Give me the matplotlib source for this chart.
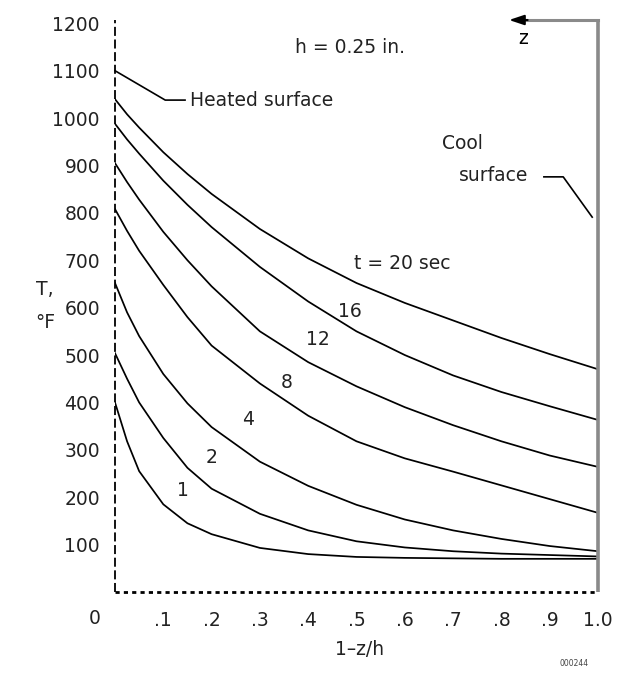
import matplotlib
matplotlib.use("Agg")
import matplotlib.pyplot as plt
import matplotlib.transforms as mtrans

# depth positions (1 - z/h) and temperature profiles, deg F
xs = [0.0, 0.025, 0.05, 0.1, 0.15, 0.2, 0.3, 0.4, 0.5, 0.6, 0.7, 0.8, 0.9, 1.0]
T20 = [1040, 1008, 980, 928, 882, 840, 766, 704, 652, 610, 573, 536, 502, 470]
T16 = [988, 955, 925, 868, 817, 770, 686, 613, 550, 500, 457, 422, 392, 363]
T12 = [905, 865, 828, 760, 700, 645, 550, 485, 434, 390, 352, 318, 288, 264]
T8 = [808, 762, 720, 648, 580, 520, 440, 372, 318, 282, 254, 225, 196, 167]
T4 = [652, 590, 540, 460, 398, 348, 275, 224, 184, 153, 130, 112, 97, 86]
T2 = [504, 450, 400, 325, 262, 218, 165, 130, 107, 94, 86, 81, 78, 75]
T1 = [400, 318, 255, 185, 145, 122, 93, 80, 74, 72, 71, 70, 70, 70]
curves = [T20, T16, T12, T8, T4, T2, T1]

# curve labels and where they sit
lab_txt = ["t = 20 sec", "16", "12", "8", "4", "2", "1"]
lab_x = [0.594, 0.487, 0.42, 0.356, 0.275, 0.2, 0.141]
lab_y = [694, 591, 532, 443, 363, 283, 215]

yticks = [100, 200, 300, 400, 500, 600, 700, 800, 900, 1000, 1100, 1200]
xticks = [0.1, 0.2, 0.3, 0.4, 0.5, 0.6, 0.7, 0.8, 0.9, 1.0]
xlabels = [".1", ".2", ".3", ".4", ".5", ".6", ".7", ".8", ".9", "1.0"]

TOP = 1207
fs = 13.5
tc = "#222222"

fig = plt.figure(figsize=(6.18, 6.75), dpi=100)
ax = fig.add_axes([115/618, 1-592/675, 483/618, 572/675])
ax.set_xlim(0, 1)
ax.set_ylim(0, TOP)
for s in ax.spines.values():
    s.set_visible(False)

for c in curves:
    ax.plot(xs, c, color="black", lw=1.25, solid_joinstyle="round")

for t, x, y in zip(lab_txt, lab_x, lab_y):
    ax.text(x, y, t, fontsize=fs, ha="center", va="center", color=tc)

# frame: dashed left, dotted bottom, grey right (cool surface)
ax.plot([0, 0], [0, TOP], color="black", lw=1.3, ls=(0, (5, 2)), clip_on=False)
ax.plot([0, 1], [0, 0], color="black", lw=2.0, ls=(0, (1.5, 1.5)), clip_on=False)
ax.plot([1, 1], [0, TOP], color="#8a8a8a", lw=2.6, clip_on=False, solid_capstyle="butt")
ax.plot([1, 0.85], [TOP, TOP], color="#8a8a8a", lw=2.2, clip_on=False)
ax.annotate("", xy=(0.81, TOP), xytext=(0.86, TOP),
            arrowprops=dict(arrowstyle="-|>,head_length=0.9,head_width=0.3",
                            color="black", lw=1.5), annotation_clip=False)
ax.text(0.845, 1169, "z", fontsize=fs, ha="center", va="center")

ax.set_yticks(yticks)
ax.set_yticklabels([str(v) for v in yticks])
ax.set_xticks(xticks)
ax.set_xticklabels(xlabels)
ax.tick_params(axis="y", length=0, pad=10.8, labelsize=fs, labelcolor=tc)
ax.tick_params(axis="x", length=0, pad=13.5, labelsize=fs, labelcolor=tc)
trans = mtrans.blended_transform_factory(ax.transData, ax.transAxes)
ax.text(-0.042, -0.0455, "0", transform=trans, fontsize=fs, ha="center", va="center",
        color=tc)

ax.text(0.507, -0.10, "1\u2013z/h", transform=trans, fontsize=fs, ha="center",
        va="center", color=tc)
fig.text(45/618, 1-290/675, "T,", fontsize=fs, ha="center", va="center", color=tc)
fig.text(45/618, 1-322/675, "\u00b0F", fontsize=fs, ha="center", va="center", color=tc)

ax.text(0.373, 1148, "h = 0.25 in.", fontsize=fs, ha="left", va="center", color=tc)

# heated surface leader
ax.plot([0, 0.104, 0.145], [1100, 1038, 1038], color="black", lw=1.2, clip_on=False)
ax.text(0.155, 1038, "Heated surface", fontsize=fs, ha="left", va="center", color=tc)

# cool surface leader
ax.text(0.72, 947, "Cool", fontsize=fs, ha="center", va="center", color=tc)
ax.text(0.783, 878, "surface", fontsize=fs, ha="center", va="center", color=tc)
ax.plot([0.888, 0.928, 0.988], [876, 876, 791], color="black", lw=1.2)

fig.text(574/618, 1-663/675, "000244", fontsize=5.5, ha="center", va="center", color="#444444")

fig.savefig("out.png", dpi=100)
